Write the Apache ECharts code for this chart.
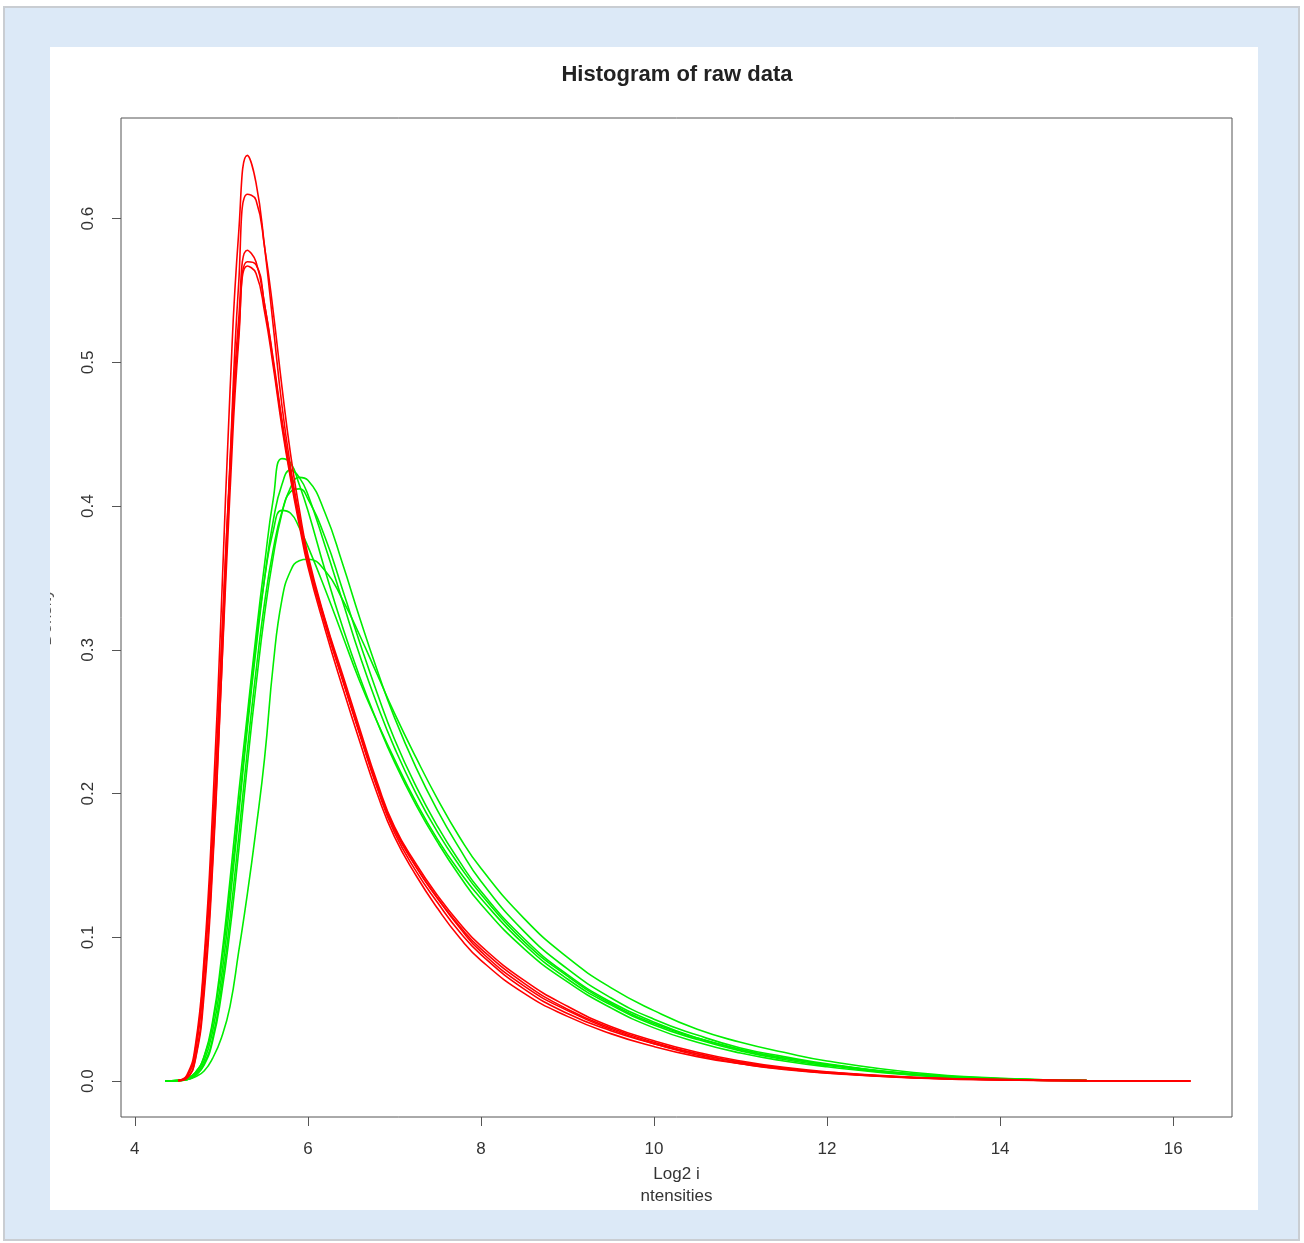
<!DOCTYPE html>
<html>
<head>
<meta charset="utf-8">
<script src="https://cdn.jsdelivr.net/npm/echarts@6/dist/echarts.min.js"></script>
<style>
html,body{margin:0;padding:0;background:#ffffff;width:1304px;height:1243px;overflow:hidden;}
#frame{position:absolute;left:3px;top:6px;width:1293px;height:1231px;background:#dce9f7;border:2px solid #c9cdd2;}
#panel{position:absolute;left:50px;top:47px;width:1208px;height:1163px;background:#ffffff;}
#chart{position:absolute;left:50px;top:47px;width:1208px;height:1163px;}
</style>
</head>
<body>
<div id="frame"></div>
<div id="panel"></div>
<div id="chart"></div>
<script>
// x positions (Log2 intensities) shared by all density curves
const xGrid = [4.35,4.5,4.6,4.7,4.8,4.9,5.0,5.1,5.2,5.3,5.4,5.5,5.6,5.7,5.8,5.9,6.0,6.2,6.4,6.6,6.8,7.0,7.25,7.5,7.75,8.0,8.5,9.0,9.5,10,10.5,11,11.5,12,13,14,15,16.2];

// green density curves
const green1 = [0,0.0005,0.002,0.006,0.017,0.042,0.085,0.14,0.2,0.255,0.31,0.36,0.405,0.433,0.43,0.415,0.397,0.355,0.316,0.281,0.25,0.222,0.192,0.166,0.143,0.123,0.092,0.069,0.051,0.037,0.027,0.0195,0.014,0.01,0.004,0.0012,0.0002,null];
const green2 = [0,0.0004,0.0015,0.005,0.014,0.035,0.072,0.125,0.185,0.245,0.3,0.35,0.39,0.415,0.425,0.42,0.408,0.372,0.334,0.296,0.262,0.232,0.2,0.173,0.15,0.13,0.097,0.073,0.054,0.04,0.03,0.022,0.016,0.0115,0.0047,0.0016,0.0003,null];
const green3 = [0,0.0003,0.001,0.004,0.011,0.028,0.06,0.105,0.16,0.22,0.275,0.325,0.365,0.395,0.413,0.42,0.418,0.395,0.36,0.322,0.286,0.253,0.218,0.188,0.162,0.139,0.104,0.078,0.058,0.043,0.032,0.023,0.017,0.012,0.005,0.0018,0.0004,null];
const green4 = [0,0.0003,0.001,0.004,0.012,0.03,0.065,0.113,0.17,0.23,0.285,0.333,0.37,0.396,0.41,0.412,0.405,0.378,0.342,0.305,0.27,0.238,0.205,0.177,0.153,0.132,0.099,0.074,0.055,0.041,0.03,0.022,0.016,0.0115,0.0048,0.0016,0.0003,null];
const green5 = [0,0.0005,0.002,0.006,0.017,0.04,0.08,0.133,0.19,0.25,0.305,0.35,0.383,0.397,0.395,0.385,0.372,0.342,0.31,0.278,0.25,0.224,0.194,0.168,0.146,0.127,0.095,0.071,0.053,0.039,0.029,0.021,0.015,0.0108,0.0043,0.0014,0.0003,null];
const green6 = [0,0.0002,0.001,0.003,0.007,0.016,0.03,0.052,0.09,0.13,0.175,0.225,0.29,0.335,0.355,0.362,0.363,0.355,0.335,0.31,0.283,0.256,0.225,0.196,0.17,0.148,0.113,0.086,0.065,0.049,0.036,0.027,0.02,0.014,0.006,0.002,0.0004,null];

// red density curves
const red1 = [null,0.0005,0.004,0.025,0.085,0.19,0.33,0.48,0.59,0.644,0.625,0.58,0.525,0.47,0.427,0.393,0.362,0.318,0.28,0.242,0.205,0.175,0.149,0.127,0.108,0.092,0.068,0.05,0.037,0.027,0.019,0.013,0.009,0.006,0.0025,0.001,0.0003,0];
const red2 = [null,0.0003,0.002,0.015,0.06,0.15,0.28,0.43,0.555,0.617,0.613,0.58,0.535,0.483,0.436,0.398,0.366,0.321,0.283,0.245,0.208,0.177,0.151,0.129,0.11,0.094,0.07,0.052,0.038,0.028,0.02,0.014,0.0095,0.0065,0.0027,0.001,0.0003,0];
const red3 = [null,0.0004,0.003,0.02,0.075,0.17,0.3,0.43,0.53,0.578,0.57,0.54,0.5,0.458,0.421,0.39,0.361,0.318,0.279,0.241,0.204,0.173,0.146,0.124,0.104,0.088,0.064,0.047,0.035,0.026,0.018,0.012,0.0085,0.0057,0.0023,0.0009,0.0003,0];
const red4 = [null,0.0003,0.002,0.016,0.065,0.155,0.28,0.41,0.515,0.57,0.568,0.54,0.502,0.46,0.423,0.392,0.363,0.32,0.28,0.242,0.206,0.176,0.149,0.127,0.107,0.09,0.066,0.049,0.036,0.026,0.019,0.013,0.009,0.006,0.0024,0.001,0.0003,0];
const red5 = [null,0.0004,0.003,0.022,0.08,0.175,0.3,0.425,0.52,0.567,0.562,0.535,0.497,0.455,0.419,0.387,0.358,0.314,0.274,0.236,0.2,0.17,0.143,0.12,0.1,0.084,0.061,0.045,0.033,0.024,0.017,0.012,0.008,0.0055,0.0022,0.0008,0.0002,0];

const xTicks = [4,6,8,10,12,14,16];
const yTicks = [0,0.1,0.2,0.3,0.4,0.5,0.6];

const titleText = 'Histogram of raw data';
const xName = 'Log2 i\nntensities';
const yName = 'Density';

const greens = [green1,green2,green3,green4,green5,green6];
const reds = [red1,red2,red3,red4,red5];

function toPairs(arr){
  const out = [];
  for (let i = 0; i < xGrid.length; i++) {
    if (arr[i] !== null) out.push([xGrid[i], arr[i]]);
  }
  return out;
}

const series = [];
greens.forEach(function(g){
  series.push({type:'line', data: toPairs(g), showSymbol:false, smooth:0.5,
    lineStyle:{color:'#00ee00', width:1.6}, silent:true});
});
reds.forEach(function(r){
  series.push({type:'line', data: toPairs(r), showSymbol:false, smooth:0.5,
    lineStyle:{color:'#ff0000', width:1.6}, silent:true});
});

const chart = echarts.init(document.getElementById('chart'), null, {renderer:'canvas'});
chart.setOption({
  animation:false,
  backgroundColor:'transparent',
  title:{
    text:titleText, left:622, top:12, textAlign:'center',
    textStyle:{fontFamily:'Liberation Sans, Arial, sans-serif', fontWeight:'bold', fontSize:22, color:'#222'}
  },
  grid:{left:71, top:71, width:1111, height:999, containLabel:false, outerBoundsMode:'none',
    show:true, borderColor:'#555', borderWidth:1, backgroundColor:'transparent'},
  xAxis:{
    type:'value', min:3.84, max:16.68,
    name:xName, nameLocation:'middle', nameGap:44,
    nameTextStyle:{fontFamily:'Liberation Sans, Arial, sans-serif', fontSize:17, color:'#333', lineHeight:22},
    axisLine:{show:false, onZero:false},
    axisTick:{show:true, customValues:xTicks, length:9, lineStyle:{color:'#555'}},
    axisLabel:{customValues:xTicks, margin:24, fontSize:17, color:'#333', fontFamily:'Liberation Sans, Arial, sans-serif'},
    splitLine:{show:false}
  },
  yAxis:{
    type:'value', min:-0.025, max:0.67,
    name:yName, nameLocation:'middle', nameGap:66,
    nameTextStyle:{fontFamily:'Liberation Sans, Arial, sans-serif', fontSize:17, color:'#555'},
    axisLine:{show:false, onZero:false},
    axisTick:{show:true, customValues:yTicks, length:9, lineStyle:{color:'#555'}},
    axisLabel:{customValues:yTicks, rotate:90, margin:24, fontSize:17, color:'#333', fontFamily:'Liberation Sans, Arial, sans-serif',
      formatter:function(v){return v.toFixed(1);}},
    splitLine:{show:false}
  },
  series:series
});
</script>
</body>
</html>
